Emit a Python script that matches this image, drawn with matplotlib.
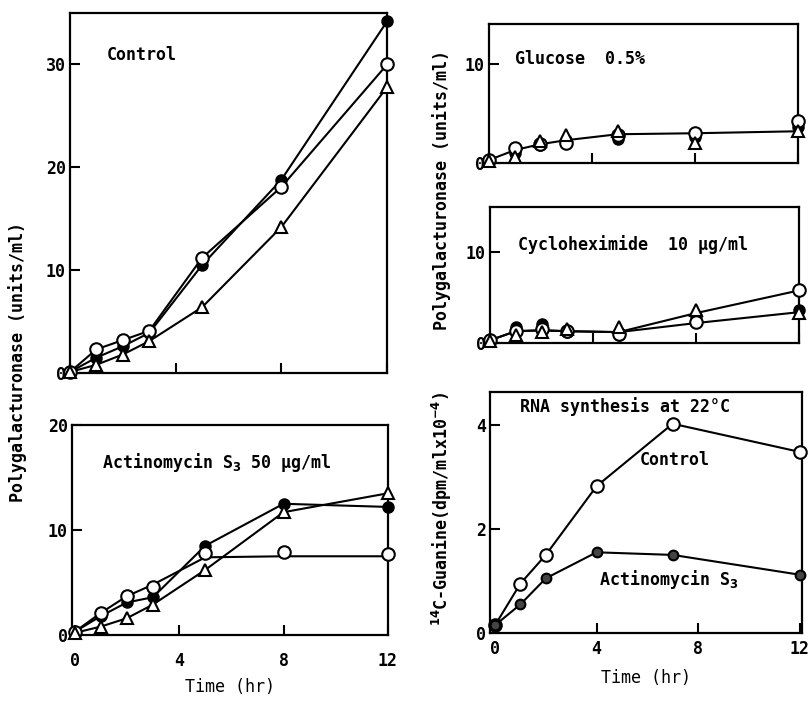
import matplotlib
matplotlib.use("Agg")
import matplotlib.pyplot as plt

plt.rcParams['font.family'] = ['DejaVu Sans Mono']
plt.rcParams['font.weight'] = 'bold'

# time points (hr)
t = [0, 1, 2, 3, 5, 8, 12]

# Control
ctrl_filled = [0.1, 1.5, 2.6, 3.9, 10.5, 18.8, 34.2]
ctrl_open = [0.1, 2.3, 3.2, 4.1, 11.2, 18.1, 30.0]
ctrl_tri = [0.1, 0.8, 1.8, 3.1, 6.4, 14.2, 27.8]

# Actinomycin S3 50 ug/ml
act_filled = [0.3, 1.8, 3.1, 3.6, 8.5, 12.5, 12.2]
act_open = [0.3, 2.1, 3.7, 4.6, 7.8, 7.9, 7.7]
act_tri = [0.2, 0.8, 1.6, 2.9, 6.2, 11.7, 13.5]
act_open_line = [0.3, 2.1, 3.7, 4.8, 7.4, 7.5, 7.5]

# Glucose 0.5%
glu_filled = [0.2, 1.0, 1.8, 2.3, 2.4, 2.6, 3.6]
glu_open = [0.3, 1.5, 1.9, 2.0, 2.8, 3.0, 4.2]
glu_tri = [0.2, 0.6, 2.2, 2.8, 3.2, 2.0, 3.2]
glu_line = [0.3, 1.3, 1.9, 2.3, 2.9, 3.0, 3.2]

# Cycloheximide 10 ug/ml
cyc_filled = [0.3, 1.8, 2.1, 1.2, 0.9, 3.0, 3.6]
cyc_open = [0.3, 1.3, 1.5, 1.3, 1.0, 2.3, 5.8]
cyc_tri = [0.2, 0.9, 1.2, 1.5, 1.8, 3.6, 3.3]
cyc_upper = [0.3, 1.3, 1.4, 1.3, 1.2, 3.3, 5.8]
cyc_lower = [0.3, 1.3, 1.4, 1.3, 1.2, 2.2, 3.4]

# RNA synthesis at 22C
rna_t = [0, 1, 2, 4, 7, 12]
rna_ctrl = [0.15, 0.95, 1.5, 2.82, 4.02, 3.48]
rna_act = [0.15, 0.55, 1.05, 1.55, 1.5, 1.12]

LW = 1.5
MS = 9

fig = plt.figure(figsize=(8.09, 7.03), dpi=100)


def style(ax, xlim, ylim, yticks, xlabels=True, xpad=3):
    ax.set_xlim(*xlim)
    ax.set_ylim(*ylim)
    ax.set_xticks([0, 4, 8, 12])
    ax.set_yticks(yticks)
    ax.tick_params(direction='in', length=7, width=1.5, labelsize=12, pad=3)
    ax.tick_params(axis='x', pad=xpad)
    if xlabels:
        ax.set_xticklabels(['0', '4', '8', '12'])
    else:
        ax.set_xticklabels([])
    for s in ax.spines.values():
        s.set_linewidth(1.6)


def plot3(ax, filled, opn, tri):
    ax.plot(t, filled, 'o', color='black', ms=MS - 1, zorder=3, clip_on=False)
    ax.plot(t, opn, 'o', mfc='white', mec='black', mew=1.5, ms=MS, zorder=4,
            clip_on=False)
    ax.plot(t, tri, '^', mfc='white', mec='black', mew=1.5, ms=MS, zorder=4,
            clip_on=False)


# top left: Control
ax1 = fig.add_axes([0.0865, 0.4694, 0.392, 0.512])
ax1.plot(t, ctrl_filled, 'k-', lw=LW)
ax1.plot(t, ctrl_open, 'k-', lw=LW)
ax1.plot(t, ctrl_tri, 'k-', lw=LW)
plot3(ax1, ctrl_filled, ctrl_open, ctrl_tri)
style(ax1, (0, 12), (0, 35), [0, 10, 20, 30], xlabels=False)
ax1.text(1.4, 30.9, 'Control', fontsize=12, va='center')

# bottom left: Actinomycin
ax2 = fig.add_axes([0.089, 0.0967, 0.3906, 0.2987])
ax2.plot(t, act_filled, 'k-', lw=LW)
ax2.plot(t, act_open_line, 'k-', lw=LW)
ax2.plot(t, act_tri, 'k-', lw=LW)
plot3(ax2, act_filled, act_open, act_tri)
style(ax2, (-0.1, 12), (0, 20), [0, 10, 20], xpad=12)
ax2.text(1.05, 16.4, 'Actinomycin S$_3$ 50 \u00b5g/ml', fontsize=12, va='center')
ax2.set_xlabel('Time (hr)', fontsize=12, labelpad=6)

# top right: Glucose
ax3 = fig.add_axes([0.6044, 0.7681, 0.382, 0.1977])
ax3.plot(t, glu_line, 'k-', lw=LW)
plot3(ax3, glu_filled, glu_open, glu_tri)
style(ax3, (0, 12), (0, 14), [0, 10], xlabels=False)
ax3.text(1.0, 10.5, 'Glucose  0.5%', fontsize=12, va='center')

# middle right: Cycloheximide
ax4 = fig.add_axes([0.6057, 0.5121, 0.382, 0.1934])
ax4.plot(t, cyc_upper, 'k-', lw=LW)
ax4.plot(t, cyc_lower, 'k-', lw=LW)
plot3(ax4, cyc_filled, cyc_open, cyc_tri)
style(ax4, (0, 12), (0, 15), [0, 10], xlabels=False)
ax4.text(1.1, 10.9, 'Cycloheximide  10 \u00b5g/ml', fontsize=12, va='center')

# bottom right: RNA synthesis
ax5 = fig.add_axes([0.6057, 0.0996, 0.3857, 0.3428])
ax5.plot(rna_t, rna_ctrl, 'k-', lw=LW)
ax5.plot(rna_t, rna_act, 'k-', lw=LW)
ax5.plot(rna_t, rna_ctrl, 'o', mfc='white', mec='black', mew=1.5, ms=MS,
         zorder=4, clip_on=False)
ax5.plot(rna_t, rna_act, 'o', mfc='#444444', mec='black', mew=1.5, ms=MS - 2,
         zorder=4, clip_on=False)
style(ax5, (-0.2, 12.1), (0, 4.63), [0, 2, 4], xpad=5)
ax5.text(0.98, 4.35, 'RNA synthesis at 22\u00b0C', fontsize=12, va='center')
ax5.text(5.7, 3.33, 'Control', fontsize=12, va='center')
ax5.text(4.1, 1.02, 'Actinomycin S$_3$', fontsize=12, va='center')
ax5.set_xlabel('Time (hr)', fontsize=12, labelpad=8)

# y labels
fig.text(0.022, 0.485, 'Polygalacturonase (units/ml)', rotation=90,
         va='center', ha='center', fontsize=12)
fig.text(0.546, 0.73, 'Polygalacturonase (units/ml)', rotation=90,
         va='center', ha='center', fontsize=12)
fig.text(0.546, 0.276, '$^{14}$C-Guanine(dpm/mlx10$^{-4}$)', rotation=90,
         va='center', ha='center', fontsize=12)

fig.savefig('out.png', dpi=100)
